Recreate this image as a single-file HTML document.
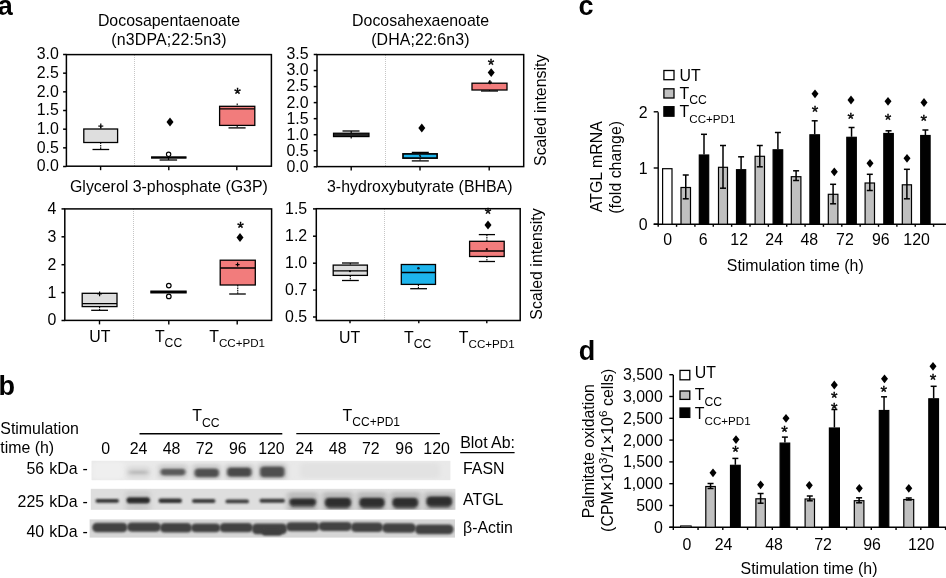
<!DOCTYPE html>
<html><head><meta charset="utf-8"><title>Figure</title>
<style>
html,body{margin:0;padding:0;background:#fff;}
body{width:946px;height:578px;overflow:hidden;}
svg{display:block;font-family:"Liberation Sans",sans-serif;fill:#000;}
</style></head><body>
<svg width="946" height="578" viewBox="0 0 946 578">
<rect x="0" y="0" width="946" height="578" fill="#fff"/>
<g opacity="0.999">
<text x="-2.3" y="14.7" font-size="27" text-anchor="start" font-weight="bold">a</text>
<text x="-1.6" y="395.1" font-size="27" text-anchor="start" font-weight="bold">b</text>
<text x="578.6" y="14.6" font-size="27" text-anchor="start" font-weight="bold">c</text>
<text x="578.8" y="359.9" font-size="27" text-anchor="start" font-weight="bold">d</text>
<text x="169" y="25.7" font-size="15.9" text-anchor="middle">Docosapentaenoate</text>
<text x="169" y="44.5" font-size="15.9" text-anchor="middle" letter-spacing="0.2">(n3DPA;22:5n3)</text>
<line x1="134.5" y1="55" x2="134.5" y2="166" stroke="#c6c6c6" stroke-width="1" stroke-dasharray="1 1" shape-rendering="crispEdges"/>
<rect x="66.4" y="54.6" width="205.0" height="111.6" fill="none" stroke="#000" stroke-width="1.5"/>
<line x1="63.10000000000001" y1="54.5" x2="66.4" y2="54.5" stroke="#000" stroke-width="1.5"/>
<text x="58.8" y="59.4" font-size="15.9" text-anchor="end">3.0</text>
<line x1="63.10000000000001" y1="73.17" x2="66.4" y2="73.17" stroke="#000" stroke-width="1.5"/>
<text x="58.8" y="78.07" font-size="15.9" text-anchor="end">2.5</text>
<line x1="63.10000000000001" y1="91.84" x2="66.4" y2="91.84" stroke="#000" stroke-width="1.5"/>
<text x="58.8" y="96.74" font-size="15.9" text-anchor="end">2.0</text>
<line x1="63.10000000000001" y1="110.51" x2="66.4" y2="110.51" stroke="#000" stroke-width="1.5"/>
<text x="58.8" y="115.41" font-size="15.9" text-anchor="end">1.5</text>
<line x1="63.10000000000001" y1="129.18" x2="66.4" y2="129.18" stroke="#000" stroke-width="1.5"/>
<text x="58.8" y="134.08" font-size="15.9" text-anchor="end">1.0</text>
<line x1="63.10000000000001" y1="147.85000000000002" x2="66.4" y2="147.85000000000002" stroke="#000" stroke-width="1.5"/>
<text x="58.8" y="152.75" font-size="15.9" text-anchor="end">0.5</text>
<line x1="63.10000000000001" y1="166.52" x2="66.4" y2="166.52" stroke="#000" stroke-width="1.5"/>
<text x="58.8" y="171.42" font-size="15.9" text-anchor="end">0.0</text>
<line x1="100.6" y1="166.2" x2="100.6" y2="170.2" stroke="#000" stroke-width="1.4"/>
<line x1="168.8" y1="166.2" x2="168.8" y2="170.2" stroke="#000" stroke-width="1.4"/>
<line x1="236.8" y1="166.2" x2="236.8" y2="170.2" stroke="#000" stroke-width="1.4"/>
<line x1="100.69999999999999" y1="126.3" x2="100.69999999999999" y2="129" stroke="#000" stroke-width="1.1" stroke-dasharray="1.6 0.8"/>
<line x1="100.69999999999999" y1="142.5" x2="100.69999999999999" y2="149.5" stroke="#000" stroke-width="1.1" stroke-dasharray="1.6 0.8"/>
<line x1="92.5" y1="149.5" x2="109.2" y2="149.5" stroke="#000" stroke-width="1.3"/>
<rect x="83.8" y="129" width="33.8" height="13.5" fill="#DEDEDE" stroke="#000" stroke-width="1.3"/>
<line x1="98.3" y1="126.1" x2="103.3" y2="126.1" stroke="#000" stroke-width="1.2"/>
<line x1="100.8" y1="123.6" x2="100.8" y2="128.6" stroke="#000" stroke-width="1.2"/>
<line x1="159.6" y1="160" x2="177.1" y2="160" stroke="#000" stroke-width="1.3"/>
<line x1="168.5" y1="157" x2="168.5" y2="160" stroke="#000" stroke-width="1.2"/>
<rect x="151.5" y="156.8" width="34.6" height="1.4" fill="#000" stroke="#000" stroke-width="0.9"/>
<circle cx="168.6" cy="154.3" r="2.2" fill="none" stroke="#000" stroke-width="1.1"/>
<path d="M170 117.6L173.5 122L170 126.4L166.5 122Z" fill="#000"/>
<line x1="237.2" y1="103.6" x2="237.2" y2="106.3" stroke="#000" stroke-width="1.1" stroke-dasharray="1.6 0.8"/>
<line x1="237.2" y1="125.4" x2="237.2" y2="127.9" stroke="#000" stroke-width="1.1" stroke-dasharray="1.6 0.8"/>
<line x1="228.5" y1="127.9" x2="245.6" y2="127.9" stroke="#000" stroke-width="1.3"/>
<rect x="219.6" y="106.3" width="35.2" height="19.1" fill="#F27C7C" stroke="#000" stroke-width="1.3"/>
<line x1="219.6" y1="108.9" x2="254.8" y2="108.9" stroke="#000" stroke-width="1.3"/>
<text x="237.5" y="100.07" font-size="16.8" text-anchor="middle" stroke="#000" stroke-width="0.4">*</text>
<text x="70" y="191.7" font-size="15.9" text-anchor="start">Glycerol 3-phosphate (G3P)</text>
<text x="420.6" y="25.7" font-size="15.9" text-anchor="middle">Docosahexaenoate</text>
<text x="420.4" y="44.5" font-size="15.9" text-anchor="middle" letter-spacing="0.1">(DHA;22:6n3)</text>
<line x1="385.5" y1="55" x2="385.5" y2="166" stroke="#c6c6c6" stroke-width="1" stroke-dasharray="1 1" shape-rendering="crispEdges"/>
<rect x="317" y="54.6" width="206.7" height="112.0" fill="none" stroke="#000" stroke-width="1.5"/>
<line x1="313.7" y1="54.5" x2="317" y2="54.5" stroke="#000" stroke-width="1.5"/>
<text x="308.6" y="59.4" font-size="15.9" text-anchor="end">3.5</text>
<line x1="313.7" y1="70.53999999999999" x2="317" y2="70.53999999999999" stroke="#000" stroke-width="1.5"/>
<text x="308.6" y="75.44" font-size="15.9" text-anchor="end">3.0</text>
<line x1="313.7" y1="86.58" x2="317" y2="86.58" stroke="#000" stroke-width="1.5"/>
<text x="308.6" y="91.48" font-size="15.9" text-anchor="end">2.5</text>
<line x1="313.7" y1="102.62" x2="317" y2="102.62" stroke="#000" stroke-width="1.5"/>
<text x="308.6" y="107.52" font-size="15.9" text-anchor="end">2.0</text>
<line x1="313.7" y1="118.66" x2="317" y2="118.66" stroke="#000" stroke-width="1.5"/>
<text x="308.6" y="123.56" font-size="15.9" text-anchor="end">1.5</text>
<line x1="313.7" y1="134.7" x2="317" y2="134.7" stroke="#000" stroke-width="1.5"/>
<text x="308.6" y="139.6" font-size="15.9" text-anchor="end">1.0</text>
<line x1="313.7" y1="150.74" x2="317" y2="150.74" stroke="#000" stroke-width="1.5"/>
<text x="308.6" y="155.64" font-size="15.9" text-anchor="end">0.5</text>
<line x1="313.7" y1="166.78" x2="317" y2="166.78" stroke="#000" stroke-width="1.5"/>
<text x="308.6" y="171.68" font-size="15.9" text-anchor="end">0.0</text>
<line x1="351.2" y1="166.6" x2="351.2" y2="170.6" stroke="#000" stroke-width="1.4"/>
<line x1="420" y1="166.6" x2="420" y2="170.6" stroke="#000" stroke-width="1.4"/>
<line x1="489.2" y1="166.6" x2="489.2" y2="170.6" stroke="#000" stroke-width="1.4"/>
<line x1="351.2" y1="131" x2="351.2" y2="133" stroke="#000" stroke-width="1.2"/>
<line x1="342.5" y1="131" x2="359.5" y2="131" stroke="#000" stroke-width="1.3"/>
<rect x="333.5" y="133.2" width="35.5" height="3.4" fill="#222" stroke="#000" stroke-width="1.2"/>
<line x1="351.2" y1="137" x2="351.2" y2="138.5" stroke="#000" stroke-width="1.2"/>
<line x1="420.05" y1="152.4" x2="420.05" y2="153.9" stroke="#000" stroke-width="1.1" stroke-dasharray="1.6 0.8"/>
<line x1="411.8" y1="152.4" x2="428.8" y2="152.4" stroke="#000" stroke-width="1.3"/>
<line x1="420.05" y1="158.1" x2="420.05" y2="160.9" stroke="#000" stroke-width="1.1" stroke-dasharray="1.6 0.8"/>
<line x1="411.8" y1="160.9" x2="428.8" y2="160.9" stroke="#000" stroke-width="1.3"/>
<rect x="403" y="153.9" width="34.1" height="4.2" fill="#1DB4EC" stroke="#000" stroke-width="1.7"/>
<line x1="419.4" y1="155.2" x2="420.8" y2="156.8" stroke="#000" stroke-width="1.5"/>
<path d="M421.8 123.6L425.3 128L421.8 132.4L418.3 128Z" fill="#000"/>
<line x1="489.5" y1="80.5" x2="489.5" y2="83.2" stroke="#000" stroke-width="1.1" stroke-dasharray="1.6 0.8"/>
<line x1="489.5" y1="90" x2="489.5" y2="91" stroke="#000" stroke-width="1.1" stroke-dasharray="1.6 0.8"/>
<line x1="481" y1="91" x2="498" y2="91" stroke="#000" stroke-width="1.3"/>
<rect x="472" y="83.2" width="35" height="6.8" fill="#F27C7C" stroke="#000" stroke-width="1.3"/>
<line x1="488" y1="82.2" x2="492" y2="82.2" stroke="#000" stroke-width="1.2"/>
<line x1="490" y1="80.2" x2="490" y2="84.2" stroke="#000" stroke-width="1.2"/>
<path d="M491.2 68.19999999999999L494.7 72.6L491.2 77.0L487.7 72.6Z" fill="#000"/>
<text x="491" y="70.57" font-size="16.8" text-anchor="middle" stroke="#000" stroke-width="0.4">*</text>
<text x="327" y="192" font-size="15.9" text-anchor="start">3-hydroxybutyrate (BHBA)</text>
<text transform="translate(545.5,110.3) rotate(-90)" font-size="15.9" text-anchor="middle">Scaled intensity</text>
<line x1="133.5" y1="209" x2="133.5" y2="320" stroke="#c6c6c6" stroke-width="1" stroke-dasharray="1 1" shape-rendering="crispEdges"/>
<rect x="64.8" y="208.9" width="206.8" height="111.5" fill="none" stroke="#000" stroke-width="1.5"/>
<line x1="61.5" y1="208.9" x2="64.8" y2="208.9" stroke="#000" stroke-width="1.5"/>
<text x="56.4" y="213.8" font-size="15.9" text-anchor="end">4</text>
<line x1="61.5" y1="236.8" x2="64.8" y2="236.8" stroke="#000" stroke-width="1.5"/>
<text x="56.4" y="241.7" font-size="15.9" text-anchor="end">3</text>
<line x1="61.5" y1="264.7" x2="64.8" y2="264.7" stroke="#000" stroke-width="1.5"/>
<text x="56.4" y="269.6" font-size="15.9" text-anchor="end">2</text>
<line x1="61.5" y1="292.6" x2="64.8" y2="292.6" stroke="#000" stroke-width="1.5"/>
<text x="56.4" y="297.5" font-size="15.9" text-anchor="end">1</text>
<line x1="61.5" y1="320.5" x2="64.8" y2="320.5" stroke="#000" stroke-width="1.5"/>
<text x="56.4" y="325.4" font-size="15.9" text-anchor="end">0</text>
<line x1="99.5" y1="320.4" x2="99.5" y2="324.4" stroke="#000" stroke-width="1.4"/>
<line x1="168.8" y1="320.4" x2="168.8" y2="324.4" stroke="#000" stroke-width="1.4"/>
<line x1="237.2" y1="320.4" x2="237.2" y2="324.4" stroke="#000" stroke-width="1.4"/>
<line x1="99.6" y1="306.6" x2="99.6" y2="310.3" stroke="#000" stroke-width="1.1" stroke-dasharray="1.6 0.8"/>
<line x1="91.2" y1="310.3" x2="108" y2="310.3" stroke="#000" stroke-width="1.3"/>
<rect x="82.2" y="293.3" width="34.8" height="13.3" fill="#DEDEDE" stroke="#000" stroke-width="1.3"/>
<line x1="82.2" y1="303.7" x2="117" y2="303.7" stroke="#000" stroke-width="1.3"/>
<line x1="97.19999999999999" y1="293.8" x2="102.0" y2="293.8" stroke="#000" stroke-width="1.2"/>
<line x1="99.6" y1="291.40000000000003" x2="99.6" y2="296.2" stroke="#000" stroke-width="1.2"/>
<rect x="150.8" y="291" width="35.4" height="2" fill="#000" stroke="#000" stroke-width="1.0"/>
<circle cx="168.8" cy="285.6" r="2.3" fill="none" stroke="#000" stroke-width="1.2"/>
<circle cx="168.8" cy="296.4" r="2.3" fill="none" stroke="#000" stroke-width="1.2"/>
<line x1="237.75" y1="285" x2="237.75" y2="294" stroke="#000" stroke-width="1.1" stroke-dasharray="1.6 0.8"/>
<line x1="229.2" y1="294" x2="245.8" y2="294" stroke="#000" stroke-width="1.3"/>
<rect x="220.2" y="260.2" width="35.1" height="24.8" fill="#F27C7C" stroke="#000" stroke-width="1.3"/>
<line x1="220.2" y1="268" x2="255.3" y2="268" stroke="#000" stroke-width="1.3"/>
<line x1="235.6" y1="264.6" x2="239.6" y2="264.6" stroke="#000" stroke-width="1.2"/>
<line x1="237.6" y1="262.6" x2="237.6" y2="266.6" stroke="#000" stroke-width="1.2"/>
<path d="M240 233.1L243.5 237.5L240 241.9L236.5 237.5Z" fill="#000"/>
<text x="240.5" y="233.77" font-size="16.8" text-anchor="middle" stroke="#000" stroke-width="0.4">*</text>
<text x="89.2" y="342.2" font-size="15.9" text-anchor="start">UT</text>
<text x="154.9" y="342.2" font-size="15.9" text-anchor="start">T<tspan font-size="12.2" dy="5.2">CC</tspan></text>
<text x="209.2" y="342.2" font-size="15.9" text-anchor="start">T<tspan font-size="11.6" dy="5.2">CC+PD1</tspan></text>
<line x1="384.5" y1="209" x2="384.5" y2="320" stroke="#c6c6c6" stroke-width="1" stroke-dasharray="1 1" shape-rendering="crispEdges"/>
<rect x="316.3" y="208.7" width="203.9" height="111.8" fill="none" stroke="#000" stroke-width="1.5"/>
<line x1="313.0" y1="208.9" x2="316.3" y2="208.9" stroke="#000" stroke-width="1.5"/>
<text x="307.2" y="213.8" font-size="15.9" text-anchor="end">1.5</text>
<line x1="313.0" y1="236.2" x2="316.3" y2="236.2" stroke="#000" stroke-width="1.5"/>
<text x="307.2" y="241.1" font-size="15.9" text-anchor="end">1.2</text>
<line x1="313.0" y1="263.2" x2="316.3" y2="263.2" stroke="#000" stroke-width="1.5"/>
<text x="307.2" y="268.1" font-size="15.9" text-anchor="end">1.0</text>
<line x1="313.0" y1="290.1" x2="316.3" y2="290.1" stroke="#000" stroke-width="1.5"/>
<text x="307.2" y="295.0" font-size="15.9" text-anchor="end">0.7</text>
<line x1="313.0" y1="317" x2="316.3" y2="317" stroke="#000" stroke-width="1.5"/>
<text x="307.2" y="321.9" font-size="15.9" text-anchor="end">0.5</text>
<line x1="350" y1="320.5" x2="350" y2="323.3" stroke="#000" stroke-width="1.4"/>
<line x1="418.8" y1="320.5" x2="418.8" y2="323.3" stroke="#000" stroke-width="1.4"/>
<line x1="486.8" y1="320.5" x2="486.8" y2="323.3" stroke="#000" stroke-width="1.4"/>
<line x1="350.29999999999995" y1="263" x2="350.29999999999995" y2="265.1" stroke="#000" stroke-width="1.1" stroke-dasharray="1.6 0.8"/>
<line x1="342" y1="263" x2="358.8" y2="263" stroke="#000" stroke-width="1.3"/>
<line x1="350.29999999999995" y1="275.4" x2="350.29999999999995" y2="280.5" stroke="#000" stroke-width="1.1" stroke-dasharray="1.6 0.8"/>
<line x1="342" y1="280.5" x2="358.8" y2="280.5" stroke="#000" stroke-width="1.3"/>
<rect x="333.2" y="265.1" width="34.2" height="10.3" fill="#DEDEDE" stroke="#000" stroke-width="1.3"/>
<line x1="333.2" y1="270.8" x2="367.4" y2="270.8" stroke="#000" stroke-width="1.3"/>
<circle cx="350" cy="271.3" r="1" fill="#000"/>
<line x1="418.4" y1="284.4" x2="418.4" y2="288.7" stroke="#000" stroke-width="1.1" stroke-dasharray="1.6 0.8"/>
<line x1="410.2" y1="288.7" x2="427" y2="288.7" stroke="#000" stroke-width="1.3"/>
<rect x="401.3" y="264.5" width="34.2" height="19.9" fill="#1DB4EC" stroke="#000" stroke-width="1.3"/>
<line x1="401.3" y1="272.5" x2="435.5" y2="272.5" stroke="#000" stroke-width="1.3"/>
<circle cx="418.4" cy="268.3" r="1.3" fill="#123"/>
<line x1="486.9" y1="234.6" x2="486.9" y2="241.3" stroke="#000" stroke-width="1.1" stroke-dasharray="1.6 0.8"/>
<line x1="478.8" y1="234.6" x2="495" y2="234.6" stroke="#000" stroke-width="1.3"/>
<line x1="486.9" y1="256.5" x2="486.9" y2="261.5" stroke="#000" stroke-width="1.1" stroke-dasharray="1.6 0.8"/>
<line x1="478.8" y1="261.5" x2="495" y2="261.5" stroke="#000" stroke-width="1.3"/>
<rect x="469.6" y="241.3" width="34.6" height="15.2" fill="#F27C7C" stroke="#000" stroke-width="1.3"/>
<line x1="469.6" y1="251" x2="504.2" y2="251" stroke="#000" stroke-width="1.3"/>
<circle cx="486.8" cy="249.2" r="1.1" fill="#300"/>
<path d="M488 220.6L491.5 225L488 229.4L484.5 225Z" fill="#000"/>
<text x="488" y="220.07" font-size="16.8" text-anchor="middle" stroke="#000" stroke-width="0.4">*</text>
<text x="339" y="343" font-size="15.9" text-anchor="start">UT</text>
<text x="404" y="343" font-size="15.9" text-anchor="start">T<tspan font-size="12.2" dy="5.2">CC</tspan></text>
<text x="458.8" y="343" font-size="15.9" text-anchor="start">T<tspan font-size="11.6" dy="5.2">CC+PD1</tspan></text>
<text transform="translate(542.3,264) rotate(-90)" font-size="15.9" text-anchor="middle">Scaled intensity</text>
<text x="0.3" y="433.6" font-size="15.9" text-anchor="start">Stimulation</text>
<text x="0.3" y="452.6" font-size="15.9" text-anchor="start">time (h)</text>
<text x="192.2" y="421.4" font-size="15.9" text-anchor="start">T<tspan font-size="12.2" dy="5.3">CC</tspan></text>
<line x1="139.5" y1="433.7" x2="282.3" y2="433.7" stroke="#000" stroke-width="1.4"/>
<text x="342.6" y="421.4" font-size="15.9" text-anchor="start">T<tspan font-size="12" dy="5.0">CC+PD1</tspan></text>
<line x1="296.3" y1="433.6" x2="439.9" y2="433.6" stroke="#000" stroke-width="1.4"/>
<text x="105.7" y="454.4" font-size="15.9" text-anchor="middle">0</text>
<text x="138.6" y="454.4" font-size="15.9" text-anchor="middle">24</text>
<text x="171.6" y="454.4" font-size="15.9" text-anchor="middle">48</text>
<text x="204.6" y="454.4" font-size="15.9" text-anchor="middle">72</text>
<text x="237.8" y="454.4" font-size="15.9" text-anchor="middle">96</text>
<text x="271.4" y="454.4" font-size="15.9" text-anchor="middle">120</text>
<text x="304.4" y="454.4" font-size="15.9" text-anchor="middle">24</text>
<text x="337.7" y="454.4" font-size="15.9" text-anchor="middle">48</text>
<text x="370.8" y="454.4" font-size="15.9" text-anchor="middle">72</text>
<text x="404.2" y="454.4" font-size="15.9" text-anchor="middle">96</text>
<text x="436.6" y="454.4" font-size="15.9" text-anchor="middle">120</text>
<text x="87.9" y="474.2" font-size="15.9" text-anchor="end" word-spacing="0.7">56 kDa -</text>
<text x="87.9" y="506.7" font-size="15.9" text-anchor="end" word-spacing="0.7">225 kDa -</text>
<text x="87.9" y="536.5" font-size="15.9" text-anchor="end" word-spacing="0.7">40 kDa -</text>
<text x="460.2" y="448.2" font-size="15.9" text-anchor="start">Blot Ab:</text>
<line x1="460.2" y1="452.6" x2="514.6" y2="452.6" stroke="#000" stroke-width="1.2"/>
<text x="463" y="473.6" font-size="15.9" text-anchor="start">FASN</text>
<text x="463" y="504.5" font-size="15.9" text-anchor="start">ATGL</text>
<text x="463" y="533.1" font-size="15.9" text-anchor="start">β-Actin</text>
<defs><filter id="b1" x="-30%" y="-100%" width="160%" height="300%"><feGaussianBlur stdDeviation="1.5 1.0"/></filter><filter id="b2" x="-30%" y="-100%" width="160%" height="300%"><feGaussianBlur stdDeviation="2.6 1.8"/></filter><filter id="b3" x="-30%" y="-100%" width="160%" height="300%"><feGaussianBlur stdDeviation="1.1 0.8"/></filter><filter id="b0" x="-5%" y="-20%" width="110%" height="140%"><feGaussianBlur stdDeviation="0.5"/></filter><clipPath id="cF"><rect x="91.6" y="460.8" width="358.8" height="19.4"/></clipPath><clipPath id="cA"><rect x="90.8" y="488.8" width="364.6" height="21"/></clipPath><clipPath id="cB"><rect x="89.6" y="519.4" width="365.4" height="18.2"/></clipPath></defs>
<rect x="91.6" y="460.8" width="358.8" height="19.4" fill="#e9e9e9" filter="url(#b0)"/>
<g clip-path="url(#cF)">
<rect x="92" y="462" width="32" height="17" rx="4" fill="#efefef" opacity="1" filter="url(#b2)"/>
<rect x="127" y="466" width="23" height="13" rx="4" fill="#dcdcdc" opacity="1" filter="url(#b2)"/>
<rect x="158" y="464" width="30" height="15" rx="4" fill="#d2d2d2" opacity="1" filter="url(#b2)"/>
<rect x="192" y="464" width="29" height="16" rx="4" fill="#cfcfcf" opacity="1" filter="url(#b2)"/>
<rect x="225" y="464" width="29" height="16" rx="4" fill="#cfcfcf" opacity="1" filter="url(#b2)"/>
<rect x="258" y="463" width="29" height="17" rx="4" fill="#cdcdcd" opacity="1" filter="url(#b2)"/>
<rect x="300" y="463" width="140" height="15" rx="4" fill="#e2e2e2" opacity="1" filter="url(#b2)"/>
<rect x="129" y="470.8" width="19" height="3.2" rx="1.5999999999999943" fill="#b4b4b4" opacity="1" filter="url(#b2)"/>
<rect x="160.5" y="468.8" width="25.0" height="6.6" rx="3.299999999999983" fill="#5a5a5a" opacity="1" filter="url(#b1)"/>
<rect x="194.5" y="468.4" width="24.5" height="8.8" rx="4" fill="#505050" opacity="1" filter="url(#b1)"/>
<rect x="227" y="467.6" width="24.6" height="9.2" rx="4" fill="#4a4a4a" opacity="1" filter="url(#b1)"/>
<rect x="260" y="466.6" width="24.6" height="10.6" rx="4" fill="#505050" opacity="1" filter="url(#b1)"/>
</g>
<rect x="90.8" y="488.8" width="364.6" height="21" fill="#dedede" filter="url(#b0)"/>
<g clip-path="url(#cA)">
<rect x="125" y="491" width="26" height="21" rx="4" fill="#d0d0d0" opacity="1" filter="url(#b2)"/>
<rect x="287" y="492" width="31" height="20" rx="4" fill="#bdbdbd" opacity="1" filter="url(#b2)"/>
<rect x="322" y="492" width="31.5" height="20" rx="4" fill="#bdbdbd" opacity="1" filter="url(#b2)"/>
<rect x="356.5" y="492" width="30.5" height="20" rx="4" fill="#bdbdbd" opacity="1" filter="url(#b2)"/>
<rect x="390" y="492" width="31" height="20" rx="4" fill="#bdbdbd" opacity="1" filter="url(#b2)"/>
<rect x="424" y="492" width="31" height="20" rx="4" fill="#bdbdbd" opacity="1" filter="url(#b2)"/>
<rect x="95.5" y="498.9" width="23.5" height="3.8" rx="1.9000000000000057" fill="#303030" opacity="1" filter="url(#b3)"/>
<rect x="126.5" y="497.2" width="23.5" height="6.2" rx="3.0999999999999943" fill="#2c2c2c" opacity="1" filter="url(#b3)"/>
<rect x="129" y="506" width="19" height="2" rx="1.0" fill="#c2c2c2" opacity="1" filter="url(#b2)"/>
<rect x="158.5" y="498.5" width="23.5" height="4.4" rx="2.1999999999999886" fill="#333" opacity="1" filter="url(#b3)"/>
<rect x="192" y="499.1" width="23.5" height="4.0" rx="2.0" fill="#3a3a3a" opacity="1" filter="url(#b3)"/>
<rect x="225.5" y="499.5" width="23.5" height="3.8" rx="1.9000000000000057" fill="#3a3a3a" opacity="1" filter="url(#b3)"/>
<rect x="259.5" y="498.7" width="25.5" height="4.0" rx="2.0" fill="#3a3a3a" opacity="1" filter="url(#b3)"/>
<rect x="290.5" y="501.4" width="24.5" height="6.2" rx="3.1000000000000227" fill="#666" opacity="1" filter="url(#b1)"/>
<rect x="289.5" y="498.4" width="26.5" height="6.6" rx="3.3000000000000114" fill="#2e2e2e" opacity="1" filter="url(#b1)"/>
<rect x="326" y="500.8" width="24" height="8.2" rx="4" fill="#666" opacity="1" filter="url(#b1)"/>
<rect x="325" y="497.8" width="26" height="8.6" rx="4" fill="#2e2e2e" opacity="1" filter="url(#b1)"/>
<rect x="360.5" y="500.8" width="23.0" height="8.2" rx="4" fill="#666" opacity="1" filter="url(#b1)"/>
<rect x="359.5" y="497.8" width="25.0" height="8.6" rx="4" fill="#2e2e2e" opacity="1" filter="url(#b1)"/>
<rect x="393.5" y="500.8" width="23.5" height="8.2" rx="4" fill="#666" opacity="1" filter="url(#b1)"/>
<rect x="392.5" y="497.8" width="25.5" height="8.6" rx="4" fill="#2e2e2e" opacity="1" filter="url(#b1)"/>
<rect x="427.5" y="499.6" width="23.5" height="8.4" rx="4" fill="#666" opacity="1" filter="url(#b1)"/>
<rect x="426.5" y="496.6" width="25.5" height="8.8" rx="4" fill="#2e2e2e" opacity="1" filter="url(#b1)"/>
</g>
<rect x="89.6" y="519.4" width="365.4" height="18.2" fill="#d6d6d6" filter="url(#b0)"/>
<g clip-path="url(#cB)">
<rect x="92.2" y="522.7" width="35.3" height="9.6" rx="4.6" fill="#434343" opacity="1" filter="url(#b3)"/>
<rect x="127" y="522.5" width="34" height="9.2" rx="4.6" fill="#434343" opacity="1" filter="url(#b3)"/>
<rect x="160" y="523.1" width="32" height="9.4" rx="4.6" fill="#434343" opacity="1" filter="url(#b3)"/>
<rect x="191" y="523.5" width="29.5" height="8.8" rx="4.6" fill="#434343" opacity="1" filter="url(#b3)"/>
<rect x="219.5" y="523.1" width="33.5" height="9.2" rx="4.6" fill="#434343" opacity="1" filter="url(#b3)"/>
<rect x="252" y="523.5" width="35" height="10.8" rx="4.6" fill="#434343" opacity="1" filter="url(#b3)"/>
<rect x="286" y="522.3" width="33.5" height="9.0" rx="4.6" fill="#434343" opacity="1" filter="url(#b3)"/>
<rect x="318.5" y="521.9" width="33.5" height="9.0" rx="4.6" fill="#434343" opacity="1" filter="url(#b3)"/>
<rect x="351" y="522.5" width="32" height="9.6" rx="4.6" fill="#434343" opacity="1" filter="url(#b3)"/>
<rect x="382" y="523.3" width="34" height="9.4" rx="4.6" fill="#434343" opacity="1" filter="url(#b3)"/>
<rect x="415" y="524.5" width="38.5" height="9.8" rx="4.6" fill="#434343" opacity="1" filter="url(#b3)"/>
<rect x="262" y="529" width="20" height="6.4" rx="3.1999999999999886" fill="#414141" opacity="1" filter="url(#b3)"/>
</g>
<line x1="658.2" y1="112.3" x2="658.2" y2="226.79999999999998" stroke="#000" stroke-width="1.4"/>
<line x1="653.7" y1="224.2" x2="946" y2="224.2" stroke="#000" stroke-width="1.4"/>
<line x1="653.7" y1="224.2" x2="658.2" y2="224.2" stroke="#000" stroke-width="1.4"/>
<text x="647.6" y="229.9" font-size="15.9" text-anchor="end">0</text>
<line x1="653.7" y1="168.0" x2="658.2" y2="168.0" stroke="#000" stroke-width="1.4"/>
<text x="647.6" y="173.7" font-size="15.9" text-anchor="end">1</text>
<line x1="653.7" y1="111.79999999999998" x2="658.2" y2="111.79999999999998" stroke="#000" stroke-width="1.4"/>
<text x="647.6" y="117.5" font-size="15.9" text-anchor="end">2</text>
<line x1="676.5600000000001" y1="224.2" x2="676.5600000000001" y2="226.79999999999998" stroke="#000" stroke-width="1.4"/>
<line x1="694.9200000000001" y1="224.2" x2="694.9200000000001" y2="226.79999999999998" stroke="#000" stroke-width="1.4"/>
<line x1="713.2800000000001" y1="224.2" x2="713.2800000000001" y2="226.79999999999998" stroke="#000" stroke-width="1.4"/>
<line x1="731.6400000000001" y1="224.2" x2="731.6400000000001" y2="226.79999999999998" stroke="#000" stroke-width="1.4"/>
<line x1="750.0" y1="224.2" x2="750.0" y2="226.79999999999998" stroke="#000" stroke-width="1.4"/>
<line x1="768.36" y1="224.2" x2="768.36" y2="226.79999999999998" stroke="#000" stroke-width="1.4"/>
<line x1="786.72" y1="224.2" x2="786.72" y2="226.79999999999998" stroke="#000" stroke-width="1.4"/>
<line x1="805.08" y1="224.2" x2="805.08" y2="226.79999999999998" stroke="#000" stroke-width="1.4"/>
<line x1="823.44" y1="224.2" x2="823.44" y2="226.79999999999998" stroke="#000" stroke-width="1.4"/>
<line x1="841.8000000000001" y1="224.2" x2="841.8000000000001" y2="226.79999999999998" stroke="#000" stroke-width="1.4"/>
<line x1="860.1600000000001" y1="224.2" x2="860.1600000000001" y2="226.79999999999998" stroke="#000" stroke-width="1.4"/>
<line x1="878.52" y1="224.2" x2="878.52" y2="226.79999999999998" stroke="#000" stroke-width="1.4"/>
<line x1="896.8800000000001" y1="224.2" x2="896.8800000000001" y2="226.79999999999998" stroke="#000" stroke-width="1.4"/>
<line x1="915.24" y1="224.2" x2="915.24" y2="226.79999999999998" stroke="#000" stroke-width="1.4"/>
<line x1="933.6" y1="224.2" x2="933.6" y2="226.79999999999998" stroke="#000" stroke-width="1.4"/>
<rect x="662.6" y="168.7" width="9.4" height="55.5" fill="#fff" stroke="#000" stroke-width="1.2"/>
<rect x="681.0" y="187.5" width="9.5" height="36.7" fill="#C0C0C0" stroke="#000" stroke-width="1.2"/>
<line x1="685.75" y1="175" x2="685.75" y2="198.8" stroke="#000" stroke-width="1.5"/>
<line x1="682.75" y1="175" x2="688.75" y2="175" stroke="#000" stroke-width="1.5"/>
<line x1="682.75" y1="198.8" x2="688.75" y2="198.8" stroke="#000" stroke-width="1.5"/>
<rect x="699.3" y="155.0" width="9.4" height="69.2" fill="#000" stroke="#000" stroke-width="1.2"/>
<line x1="704.0" y1="134.3" x2="704.0" y2="154.5" stroke="#000" stroke-width="1.5"/>
<line x1="701.0" y1="134.3" x2="707.0" y2="134.3" stroke="#000" stroke-width="1.5"/>
<rect x="718.5" y="167.3" width="9.0" height="56.9" fill="#C0C0C0" stroke="#000" stroke-width="1.2"/>
<line x1="723.0" y1="145.5" x2="723.0" y2="188.2" stroke="#000" stroke-width="1.5"/>
<line x1="720.0" y1="145.5" x2="726.0" y2="145.5" stroke="#000" stroke-width="1.5"/>
<line x1="720.0" y1="188.2" x2="726.0" y2="188.2" stroke="#000" stroke-width="1.5"/>
<rect x="736.5" y="169.7" width="9.2" height="54.5" fill="#000" stroke="#000" stroke-width="1.2"/>
<line x1="741.1" y1="156.8" x2="741.1" y2="169.2" stroke="#000" stroke-width="1.5"/>
<line x1="738.1" y1="156.8" x2="744.1" y2="156.8" stroke="#000" stroke-width="1.5"/>
<rect x="755.1" y="156.3" width="9.4" height="67.9" fill="#C0C0C0" stroke="#000" stroke-width="1.2"/>
<line x1="759.8" y1="145.5" x2="759.8" y2="166.8" stroke="#000" stroke-width="1.5"/>
<line x1="756.8" y1="145.5" x2="762.8" y2="145.5" stroke="#000" stroke-width="1.5"/>
<line x1="756.8" y1="166.8" x2="762.8" y2="166.8" stroke="#000" stroke-width="1.5"/>
<rect x="773.1" y="149.8" width="9.6" height="74.4" fill="#000" stroke="#000" stroke-width="1.2"/>
<line x1="777.9000000000001" y1="132.5" x2="777.9000000000001" y2="149.3" stroke="#000" stroke-width="1.5"/>
<line x1="774.9000000000001" y1="132.5" x2="780.9000000000001" y2="132.5" stroke="#000" stroke-width="1.5"/>
<rect x="791.3" y="176.7" width="9.6" height="47.5" fill="#C0C0C0" stroke="#000" stroke-width="1.2"/>
<line x1="796.0999999999999" y1="170.8" x2="796.0999999999999" y2="180.5" stroke="#000" stroke-width="1.5"/>
<line x1="793.0999999999999" y1="170.8" x2="799.0999999999999" y2="170.8" stroke="#000" stroke-width="1.5"/>
<line x1="793.0999999999999" y1="180.5" x2="799.0999999999999" y2="180.5" stroke="#000" stroke-width="1.5"/>
<rect x="809.9" y="134.8" width="9.6" height="89.4" fill="#000" stroke="#000" stroke-width="1.2"/>
<line x1="814.7" y1="120.8" x2="814.7" y2="134.3" stroke="#000" stroke-width="1.5"/>
<line x1="811.7" y1="120.8" x2="817.7" y2="120.8" stroke="#000" stroke-width="1.5"/>
<rect x="828.3" y="194.3" width="9.6" height="29.9" fill="#C0C0C0" stroke="#000" stroke-width="1.2"/>
<line x1="833.0999999999999" y1="184.3" x2="833.0999999999999" y2="203.8" stroke="#000" stroke-width="1.5"/>
<line x1="830.0999999999999" y1="184.3" x2="836.0999999999999" y2="184.3" stroke="#000" stroke-width="1.5"/>
<line x1="830.0999999999999" y1="203.8" x2="836.0999999999999" y2="203.8" stroke="#000" stroke-width="1.5"/>
<rect x="846.8" y="137.3" width="9.5" height="86.9" fill="#000" stroke="#000" stroke-width="1.2"/>
<line x1="851.55" y1="127.5" x2="851.55" y2="136.8" stroke="#000" stroke-width="1.5"/>
<line x1="848.55" y1="127.5" x2="854.55" y2="127.5" stroke="#000" stroke-width="1.5"/>
<rect x="865.1" y="183.0" width="9.4" height="41.2" fill="#C0C0C0" stroke="#000" stroke-width="1.2"/>
<line x1="869.8" y1="174.3" x2="869.8" y2="190.5" stroke="#000" stroke-width="1.5"/>
<line x1="866.8" y1="174.3" x2="872.8" y2="174.3" stroke="#000" stroke-width="1.5"/>
<line x1="866.8" y1="190.5" x2="872.8" y2="190.5" stroke="#000" stroke-width="1.5"/>
<rect x="883.8" y="133.5" width="9.5" height="90.7" fill="#000" stroke="#000" stroke-width="1.2"/>
<line x1="888.55" y1="130.8" x2="888.55" y2="133" stroke="#000" stroke-width="1.5"/>
<line x1="885.55" y1="130.8" x2="891.55" y2="130.8" stroke="#000" stroke-width="1.5"/>
<rect x="902.3" y="184.8" width="9.2" height="39.4" fill="#C0C0C0" stroke="#000" stroke-width="1.2"/>
<line x1="906.9" y1="169.3" x2="906.9" y2="198.8" stroke="#000" stroke-width="1.5"/>
<line x1="903.9" y1="169.3" x2="909.9" y2="169.3" stroke="#000" stroke-width="1.5"/>
<line x1="903.9" y1="198.8" x2="909.9" y2="198.8" stroke="#000" stroke-width="1.5"/>
<rect x="920.7" y="135.5" width="9.4" height="88.7" fill="#000" stroke="#000" stroke-width="1.2"/>
<line x1="925.4000000000001" y1="130" x2="925.4000000000001" y2="135" stroke="#000" stroke-width="1.5"/>
<line x1="922.4000000000001" y1="130" x2="928.4000000000001" y2="130" stroke="#000" stroke-width="1.5"/>
<path d="M815 89.39999999999999L818.5 93.8L815 98.2L811.5 93.8Z" fill="#000"/>
<path d="M834.3 167.4L837.8 171.8L834.3 176.20000000000002L830.8 171.8Z" fill="#000"/>
<path d="M851 95.6L854.5 100L851 104.4L847.5 100Z" fill="#000"/>
<path d="M870 158.9L873.5 163.3L870 167.70000000000002L866.5 163.3Z" fill="#000"/>
<path d="M888 96.89999999999999L891.5 101.3L888 105.7L884.5 101.3Z" fill="#000"/>
<path d="M907 153.9L910.5 158.3L907 162.70000000000002L903.5 158.3Z" fill="#000"/>
<path d="M924 98.1L927.5 102.5L924 106.9L920.5 102.5Z" fill="#000"/>
<text x="815" y="118.37" font-size="16.8" text-anchor="middle" stroke="#000" stroke-width="0.4">*</text>
<text x="850.8" y="124.57" font-size="16.8" text-anchor="middle" stroke="#000" stroke-width="0.4">*</text>
<text x="888" y="125.87" font-size="16.8" text-anchor="middle" stroke="#000" stroke-width="0.4">*</text>
<text x="923.8" y="127.07" font-size="16.8" text-anchor="middle" stroke="#000" stroke-width="0.4">*</text>
<text x="667.6" y="245.1" font-size="15.9" text-anchor="middle">0</text>
<text x="703.2" y="245.1" font-size="15.9" text-anchor="middle">6</text>
<text x="739.2" y="245.1" font-size="15.9" text-anchor="middle">12</text>
<text x="774.2" y="245.1" font-size="15.9" text-anchor="middle">24</text>
<text x="809.3" y="245.1" font-size="15.9" text-anchor="middle">48</text>
<text x="844.9" y="245.1" font-size="15.9" text-anchor="middle">72</text>
<text x="880.8" y="245.1" font-size="15.9" text-anchor="middle">96</text>
<text x="916.6" y="245.1" font-size="15.9" text-anchor="middle">120</text>
<text x="726.8" y="270.5" font-size="15.9" text-anchor="start">Stimulation time (h)</text>
<text transform="translate(602,166.7) rotate(-90)" font-size="15.9" text-anchor="middle">ATGL mRNA</text>
<text transform="translate(621.3,167.3) rotate(-90)" font-size="15.9" text-anchor="middle">(fold change)</text>
<rect x="663.9" y="70.5" width="10.1" height="9.2" fill="#fff" stroke="#000" stroke-width="1.3"/>
<rect x="663.9" y="88.8" width="10.1" height="9.2" fill="#C0C0C0" stroke="#000" stroke-width="1.3"/>
<rect x="663.9" y="106.7" width="10.1" height="9.5" fill="#000" stroke="#000" stroke-width="1.3"/>
<text x="679.6" y="80.6" font-size="15.9" text-anchor="start">UT</text>
<text x="679.6" y="98.8" font-size="15.9" text-anchor="start">T<tspan font-size="12.2" dy="5.6">CC</tspan></text>
<text x="679.6" y="117" font-size="15.9" text-anchor="start">T<tspan font-size="11.6" dy="5.9">CC+PD1</tspan></text>
<line x1="673.3" y1="375" x2="673.3" y2="529.9" stroke="#000" stroke-width="1.4"/>
<line x1="669.3" y1="527.3" x2="946" y2="527.3" stroke="#000" stroke-width="1.4"/>
<line x1="669.3" y1="527.3" x2="673.3" y2="527.3" stroke="#000" stroke-width="1.4"/>
<text x="662.8" y="532.8" font-size="15.9" text-anchor="end">0</text>
<line x1="669.3" y1="505.49999999999994" x2="673.3" y2="505.49999999999994" stroke="#000" stroke-width="1.4"/>
<text x="662.8" y="511.0" font-size="15.9" text-anchor="end">500</text>
<line x1="669.3" y1="483.69999999999993" x2="673.3" y2="483.69999999999993" stroke="#000" stroke-width="1.4"/>
<text x="662.8" y="489.2" font-size="15.9" text-anchor="end">1,000</text>
<line x1="669.3" y1="461.9" x2="673.3" y2="461.9" stroke="#000" stroke-width="1.4"/>
<text x="662.8" y="467.4" font-size="15.9" text-anchor="end">1,500</text>
<line x1="669.3" y1="440.09999999999997" x2="673.3" y2="440.09999999999997" stroke="#000" stroke-width="1.4"/>
<text x="662.8" y="445.6" font-size="15.9" text-anchor="end">2,000</text>
<line x1="669.3" y1="418.29999999999995" x2="673.3" y2="418.29999999999995" stroke="#000" stroke-width="1.4"/>
<text x="662.8" y="423.8" font-size="15.9" text-anchor="end">2,500</text>
<line x1="669.3" y1="396.49999999999994" x2="673.3" y2="396.49999999999994" stroke="#000" stroke-width="1.4"/>
<text x="662.8" y="402.0" font-size="15.9" text-anchor="end">3,000</text>
<line x1="669.3" y1="374.69999999999993" x2="673.3" y2="374.69999999999993" stroke="#000" stroke-width="1.4"/>
<text x="662.8" y="380.2" font-size="15.9" text-anchor="end">3,500</text>
<line x1="698.05" y1="527.3" x2="698.05" y2="529.9" stroke="#000" stroke-width="1.4"/>
<line x1="722.8" y1="527.3" x2="722.8" y2="529.9" stroke="#000" stroke-width="1.4"/>
<line x1="747.55" y1="527.3" x2="747.55" y2="529.9" stroke="#000" stroke-width="1.4"/>
<line x1="772.3" y1="527.3" x2="772.3" y2="529.9" stroke="#000" stroke-width="1.4"/>
<line x1="797.05" y1="527.3" x2="797.05" y2="529.9" stroke="#000" stroke-width="1.4"/>
<line x1="821.8" y1="527.3" x2="821.8" y2="529.9" stroke="#000" stroke-width="1.4"/>
<line x1="846.55" y1="527.3" x2="846.55" y2="529.9" stroke="#000" stroke-width="1.4"/>
<line x1="871.3" y1="527.3" x2="871.3" y2="529.9" stroke="#000" stroke-width="1.4"/>
<line x1="896.05" y1="527.3" x2="896.05" y2="529.9" stroke="#000" stroke-width="1.4"/>
<line x1="920.8" y1="527.3" x2="920.8" y2="529.9" stroke="#000" stroke-width="1.4"/>
<line x1="945.55" y1="527.3" x2="945.55" y2="529.9" stroke="#000" stroke-width="1.4"/>
<rect x="680.6" y="525.9" width="10.6" height="1.4" fill="#C0C0C0" stroke="#000" stroke-width="1.0"/>
<rect x="705.8" y="486.5" width="9.5" height="40.8" fill="#C0C0C0" stroke="#000" stroke-width="1.2"/>
<line x1="710.55" y1="483.5" x2="710.55" y2="488.5" stroke="#000" stroke-width="1.5"/>
<line x1="707.55" y1="483.5" x2="713.55" y2="483.5" stroke="#000" stroke-width="1.5"/>
<line x1="707.55" y1="488.5" x2="713.55" y2="488.5" stroke="#000" stroke-width="1.5"/>
<rect x="730.5" y="465.3" width="9.7" height="62.0" fill="#000" stroke="#000" stroke-width="1.2"/>
<line x1="735.35" y1="458.4" x2="735.35" y2="464.8" stroke="#000" stroke-width="1.5"/>
<line x1="732.35" y1="458.4" x2="738.35" y2="458.4" stroke="#000" stroke-width="1.5"/>
<rect x="755.9" y="498.8" width="9.4" height="28.5" fill="#C0C0C0" stroke="#000" stroke-width="1.2"/>
<line x1="760.5999999999999" y1="493.5" x2="760.5999999999999" y2="503.2" stroke="#000" stroke-width="1.5"/>
<line x1="757.5999999999999" y1="493.5" x2="763.5999999999999" y2="493.5" stroke="#000" stroke-width="1.5"/>
<line x1="757.5999999999999" y1="503.2" x2="763.5999999999999" y2="503.2" stroke="#000" stroke-width="1.5"/>
<rect x="780.1" y="443.1" width="9.6" height="84.2" fill="#000" stroke="#000" stroke-width="1.2"/>
<line x1="784.9000000000001" y1="437.1" x2="784.9000000000001" y2="442.6" stroke="#000" stroke-width="1.5"/>
<line x1="781.9000000000001" y1="437.1" x2="787.9000000000001" y2="437.1" stroke="#000" stroke-width="1.5"/>
<rect x="805.1" y="499.0" width="9.4" height="28.3" fill="#C0C0C0" stroke="#000" stroke-width="1.2"/>
<line x1="809.8" y1="496" x2="809.8" y2="500.8" stroke="#000" stroke-width="1.5"/>
<line x1="806.8" y1="496" x2="812.8" y2="496" stroke="#000" stroke-width="1.5"/>
<line x1="806.8" y1="500.8" x2="812.8" y2="500.8" stroke="#000" stroke-width="1.5"/>
<rect x="829.4" y="428.0" width="10.0" height="99.3" fill="#000" stroke="#000" stroke-width="1.2"/>
<line x1="834.4" y1="409.5" x2="834.4" y2="427.5" stroke="#000" stroke-width="1.5"/>
<line x1="831.4" y1="409.5" x2="837.4" y2="409.5" stroke="#000" stroke-width="1.5"/>
<rect x="854.3" y="500.7" width="9.6" height="26.6" fill="#C0C0C0" stroke="#000" stroke-width="1.2"/>
<line x1="859.0999999999999" y1="497.8" x2="859.0999999999999" y2="502.8" stroke="#000" stroke-width="1.5"/>
<line x1="856.0999999999999" y1="497.8" x2="862.0999999999999" y2="497.8" stroke="#000" stroke-width="1.5"/>
<line x1="856.0999999999999" y1="502.8" x2="862.0999999999999" y2="502.8" stroke="#000" stroke-width="1.5"/>
<rect x="879.3" y="410.5" width="9.5" height="116.8" fill="#000" stroke="#000" stroke-width="1.2"/>
<line x1="884.05" y1="396.8" x2="884.05" y2="410" stroke="#000" stroke-width="1.5"/>
<line x1="881.05" y1="396.8" x2="887.05" y2="396.8" stroke="#000" stroke-width="1.5"/>
<rect x="903.8" y="499.5" width="9.9" height="27.8" fill="#C0C0C0" stroke="#000" stroke-width="1.2"/>
<line x1="908.75" y1="498" x2="908.75" y2="500" stroke="#000" stroke-width="1.5"/>
<line x1="905.75" y1="498" x2="911.75" y2="498" stroke="#000" stroke-width="1.5"/>
<line x1="905.75" y1="500" x2="911.75" y2="500" stroke="#000" stroke-width="1.5"/>
<rect x="928.8" y="398.8" width="9.7" height="128.5" fill="#000" stroke="#000" stroke-width="1.2"/>
<line x1="933.65" y1="386.3" x2="933.65" y2="398.3" stroke="#000" stroke-width="1.5"/>
<line x1="930.65" y1="386.3" x2="936.65" y2="386.3" stroke="#000" stroke-width="1.5"/>
<path d="M713 468.40000000000003L716.5 472.8L713 477.2L709.5 472.8Z" fill="#000"/>
<path d="M736 435.20000000000005L739.5 439.6L736 444.0L732.5 439.6Z" fill="#000"/>
<path d="M760.6 480.40000000000003L764.1 484.8L760.6 489.2L757.1 484.8Z" fill="#000"/>
<path d="M786 413.90000000000003L789.5 418.3L786 422.7L782.5 418.3Z" fill="#000"/>
<path d="M809.3 480.90000000000003L812.8 485.3L809.3 489.7L805.8 485.3Z" fill="#000"/>
<path d="M834.3 380.6L837.8 385L834.3 389.4L830.8 385Z" fill="#000"/>
<path d="M859.3 483.90000000000003L862.8 488.3L859.3 492.7L855.8 488.3Z" fill="#000"/>
<path d="M884.5 374.40000000000003L888.0 378.8L884.5 383.2L881.0 378.8Z" fill="#000"/>
<path d="M908.8 483.90000000000003L912.3 488.3L908.8 492.7L905.3 488.3Z" fill="#000"/>
<path d="M933 361.90000000000003L936.5 366.3L933 370.7L929.5 366.3Z" fill="#000"/>
<text x="735.6" y="458.27" font-size="16.8" text-anchor="middle" stroke="#000" stroke-width="0.4">*</text>
<text x="784.6" y="438.37" font-size="16.8" text-anchor="middle" stroke="#000" stroke-width="0.4">*</text>
<text x="834.3" y="414.57" font-size="16.8" text-anchor="middle" stroke="#000" stroke-width="0.4">*</text>
<text x="834.3" y="404.07" font-size="16.8" text-anchor="middle" stroke="#000" stroke-width="0.4">*</text>
<text x="883.8" y="398.37" font-size="16.8" text-anchor="middle" stroke="#000" stroke-width="0.4">*</text>
<text x="933" y="386.07" font-size="16.8" text-anchor="middle" stroke="#000" stroke-width="0.4">*</text>
<text x="686.8" y="549.6" font-size="15.9" text-anchor="middle">0</text>
<text x="723.5" y="549.6" font-size="15.9" text-anchor="middle">24</text>
<text x="774" y="549.6" font-size="15.9" text-anchor="middle">48</text>
<text x="823" y="549.6" font-size="15.9" text-anchor="middle">72</text>
<text x="872" y="549.6" font-size="15.9" text-anchor="middle">96</text>
<text x="921.2" y="549.6" font-size="15.9" text-anchor="middle">120</text>
<text x="740.6" y="574.3" font-size="15.9" text-anchor="start">Stimulation time (h)</text>
<text transform="translate(593.5,451.2) rotate(-90)" font-size="15.9" text-anchor="middle">Palmitate oxidation</text>
<text transform="translate(612.5,450.3) rotate(-90)" font-size="15.9" text-anchor="middle" letter-spacing="0.05">(CPM×10<tspan font-size="11.6" dy="-5.3">3</tspan><tspan dy="5.3">/1×10</tspan><tspan font-size="11.6" dy="-5.3">6</tspan><tspan dy="5.3"> cells)</tspan></text>
<rect x="680" y="370.4" width="9.8" height="9.4" fill="#fff" stroke="#000" stroke-width="1.3"/>
<rect x="680" y="391" width="9.8" height="8.4" fill="#C0C0C0" stroke="#000" stroke-width="1.3"/>
<rect x="680" y="408" width="9.8" height="9.4" fill="#000" stroke="#000" stroke-width="1.3"/>
<text x="694.8" y="378.2" font-size="15.9" text-anchor="start">UT</text>
<text x="694.8" y="400.2" font-size="15.9" text-anchor="start">T<tspan font-size="12.2" dy="5.6">CC</tspan></text>
<text x="694.8" y="419.4" font-size="15.9" text-anchor="start">T<tspan font-size="11.6" dy="5.9">CC+PD1</tspan></text>
</g>
</svg>
</body></html>
